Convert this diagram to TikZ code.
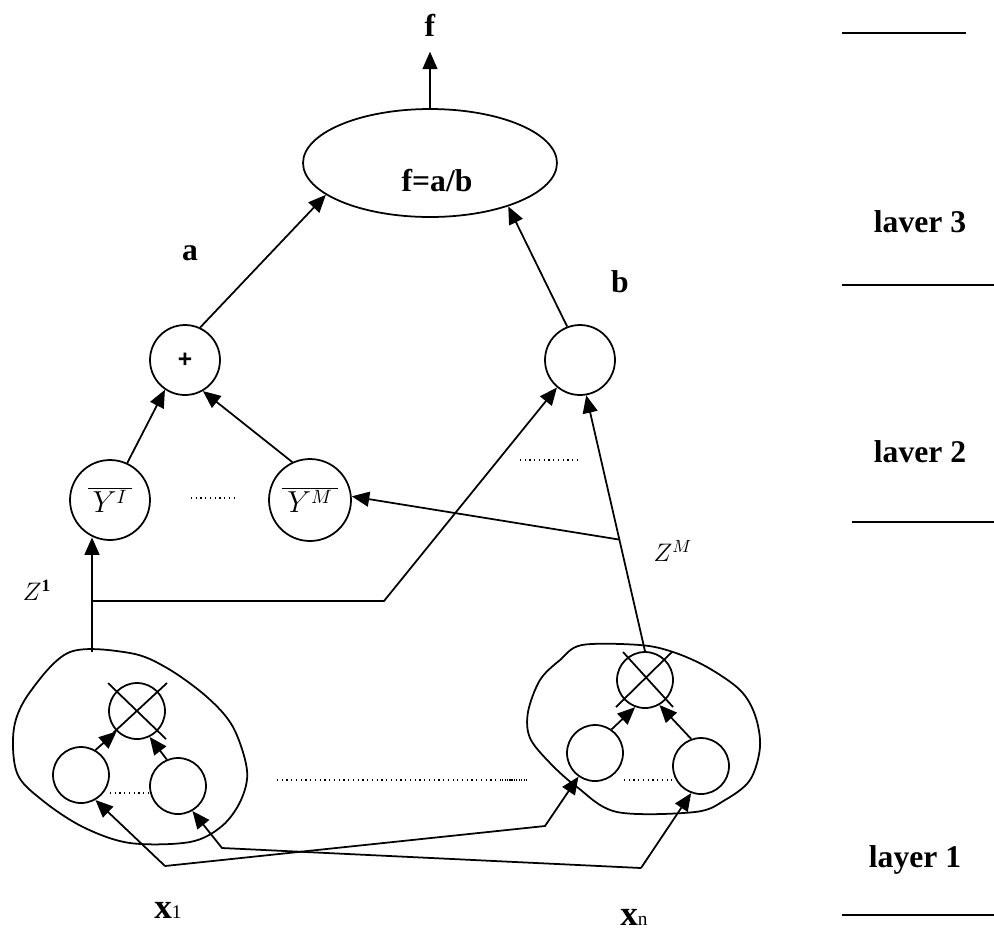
\documentclass[tikz,border=0pt]{standalone}
\usepackage{fontspec}
\setmainfont{Liberation Serif}
\setsansfont{Liberation Sans}
\usetikzlibrary{arrows.meta,calc,shapes.geometric}

\begin{document}
\begin{tikzpicture}[x=0.02cm,y=-0.02cm,line width=1pt,
    arr/.style={-{Triangle[length=10pt,width=8.5pt]}},
    unit/.style={circle,draw,line width=1pt,inner sep=0pt,minimum size=#1},
    big/.style={font=\fontsize{18}{20}\selectfont\bfseries},
    dots/.style={dotted,line width=0.7pt}]
    \useasboundingbox (0,0) rectangle (994,938);

    % Layer marks
    \draw (842,33) -- (966,33);
    \draw (842,285) -- (994,285);
    \draw (852,522) -- (994,522);
    \draw (842,915) -- (994,915);
    \node[big] (l3) at (920,222) {laver 3};
    \node[big] (l2) at (920,452) {laver 2};
    \node[big] (l1) at (915,860) {layer 1};

    % Layer 3
    \node[ellipse,draw,minimum width=5.08cm,minimum height=2.16cm] (fab) at (430,163) {};
    \node[big] (fabtxt) at (437,181) {f=a/b};
    \node[big] (fout) at (430,25) {f};
    \draw[arr] (fab.north) -- ([yshift=-5pt]fout.south);
    \node[big] (alab) at (190,253) {a};
    \node[big] (blab) at (620,282) {b};

    % Layer 2
    \node[unit=1.4cm,font=\fontsize{14}{16}\sffamily\bfseries] (plus) at (185,360) {\raisebox{-3pt}{+}};
    \node[unit=1.4cm] (bnode) at (580,360) {};
    \node[unit=1.6cm,font=\fontsize{16}{18}\selectfont] (yi) at (110,500) {$\overline{\,Y^{I}\,}$};
    \node[unit=1.64cm,font=\fontsize{16}{18}\selectfont] (ym) at (310,500) {$\overline{\,Y^{M}\,}$};
    \draw[dots] (191,498) -- (237,498);
    \draw[dots] (520,460) -- (580,460);
    \draw[arr] (plus.65) -- (fab.197);
    \draw[arr] (bnode.111) -- (fab.331);
    \draw[arr] (yi.65) -- (plus.236);
    \draw[arr] (ym.115) -- (plus.300);

    % Layer 1 blobs
    \draw plot[smooth cycle,tension=0.55] coordinates {(70,652) (130,653) (167,668) (207,697)
      (233,727) (247,770) (241,800) (222,826) (190,842) (130,843) (83,827) (42,800) (17,773)
      (14,728) (30,692)};
    \draw plot[smooth cycle,tension=0.55] coordinates {(582,645) (640,645) (673,652) (707,667)
      (740,690) (755,715) (760,747) (750,780) (725,800) (695,812) (617,812) (577,787)
      (550,763) (530,738) (528,712) (540,680) (560,660)};

    \node[unit=1.12cm] (l1mul) at (137,711) {};
    \node[unit=1.12cm] (l1a) at (81,775) {};
    \node[unit=1.12cm] (l1b) at (178,786) {};
    \draw ($(l1mul)+(-29,-28)$) -- ($(l1mul)+(29,28)$);
    \draw ($(l1mul)+(30,-28)$) -- ($(l1mul)+(-24,22)$);
    \draw[dots] (l1a.east |- 0,793) -- (l1b.west |- 0,793);
    \draw[arr] (l1a.60) -- (l1mul.225);
    \draw[arr] (l1b.113) -- (l1mul.296);

    \node[unit=1.12cm] (rmul) at (645,680) {};
    \node[unit=1.12cm] (rna) at (595,753) {};
    \node[unit=1.12cm] (rnb) at (701,766) {};
    \draw ($(rmul)+(-22,-28)$) -- ($(rmul)+(28,27)$);
    \draw ($(rmul)+(27,-28)$) -- ($(rmul)+(-29,27)$);
    \draw[dots] (502,780) -- (528,780);
    \draw[dots] (rna.east |- 0,780) -- (rnb.west |- 0,780);
    \draw[dots] (277,780) -- (527,780);
    \draw[arr] (rna.55) -- (rmul.250);
    \draw[arr] (rnb.110) -- (rmul.300);

    % Z^1 and Z^M
    \coordinate (z1) at (92,652);
    \coordinate (z1j) at (92,601);
    \coordinate (z1k) at (384,601);
    \draw[arr] (z1) -- (z1 |- yi.246);
    \draw[arr] (z1j) -- (z1k) -- (bnode.230);
    \node[font=\fontsize{14}{15}\selectfont] (z1lab) at (37,590) {$Z^{\mathbf{1}}$};
    \draw[arr] (rmul.north) -- (bnode.280);
    \coordinate (zm) at ($(rmul.north)!0.436!(bnode.280)$);
    \draw[arr] (zm) -- (ym.5);
    \node[font=\fontsize{14}{15}\selectfont] (zmlab) at (673,551) {$Z^{M}$};

    % Inputs
    \coordinate (vx1) at (165,866);
    \coordinate (vxn) at (641,868);
    \coordinate (k1) at (545,826);
    \coordinate (kn) at (222,848);
    \draw[arr] (vx1) -- (l1a.300);
    \draw[arr] (vx1) -- (k1) -- (rna.235);
    \draw[arr] (vxn) -- (rnb.250);
    \draw[arr] (vxn) -- (kn) -- (l1b.300);
    \node (x1) at (168,910) {\fontsize{20}{22}\selectfont\bfseries x\fontsize{11}{12}\selectfont\mdseries 1};
    \node (xn) at (634,917) {\fontsize{20}{22}\selectfont\bfseries x\fontsize{11}{12}\selectfont\mdseries n};
\end{tikzpicture}
\end{document}
